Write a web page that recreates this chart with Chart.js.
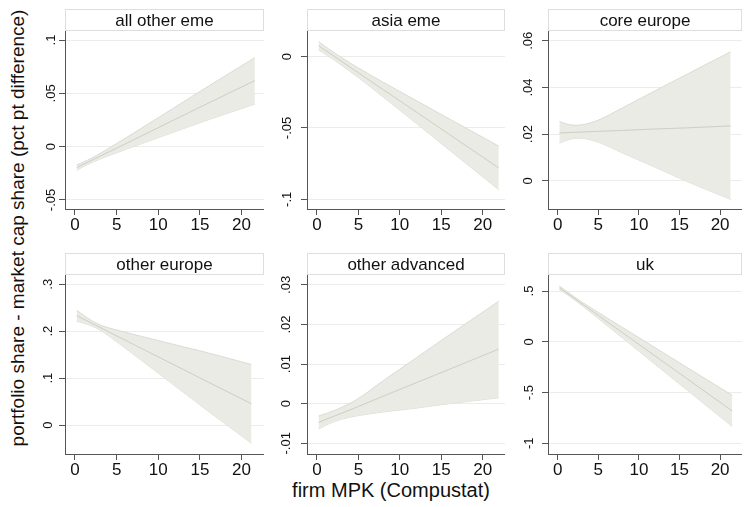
<!DOCTYPE html>
<html>
<head>
<meta charset="utf-8">
<script src="https://cdn.jsdelivr.net/npm/chart.js@4/dist/chart.umd.min.js"></script>
<style>
  body { margin: 0; background: #fff; }
  #wrap { position: relative; width: 744px; height: 507px; overflow: hidden; font-family: 'Liberation Sans', Arial, sans-serif; color: #111; }
  #wrap canvas { position: absolute; }
  #ytitle { position: absolute; left: -232px; top: 216px; width: 500px; line-height: 24px; text-align: center; font-size: 19px; transform: rotate(-90deg); white-space: nowrap; }
  #xtitle { position: absolute; left: 241px; top: 478px; width: 300px; line-height: 24px; text-align: center; font-size: 20px; white-space: nowrap; }
</style>
</head>
<body>
<div id="wrap">
  <div id="ytitle">portfolio share - market cap share (pct pt difference)</div>
  <div id="xtitle">firm MPK (Compustat)</div>
</div>
<script>
// values (linear fit + 95% band per region)
const xTicks = [0, 5, 10, 15, 20];
const panelTitles = ['all other eme', 'asia eme', 'core europe', 'other europe', 'other advanced', 'uk'];

const allOtherEmeX   = [0.2, 1.5, 3, 5, 8, 12, 16, 21.6];
const allOtherEmeFit = [-0.0197, -0.0148, -0.0090, -0.0014, 0.0101, 0.0255, 0.0408, 0.0620];
const allOtherEmeLo  = [-0.0222, -0.0169, -0.0116, -0.0057, 0.0028, 0.0140, 0.0251, 0.0400];
const allOtherEmeHi  = [-0.0172, -0.0127, -0.0064, 0.0029, 0.0174, 0.0370, 0.0566, 0.0835];
const allOtherEmeTicks = [-0.05, 0, 0.05, 0.1];

const asiaEmeX   = [0.2, 1.5, 3, 5, 8, 12, 16, 21.95];
const asiaEmeFit = [0.0076, 0.0025, -0.0034, -0.0113, -0.0231, -0.0388, -0.0546, -0.0780];
const asiaEmeLo  = [0.0047, -0.0001, -0.0061, -0.0147, -0.0283, -0.0468, -0.0655, -0.0933];
const asiaEmeHi  = [0.0105, 0.0051, -0.0007, -0.0079, -0.0179, -0.0308, -0.0437, -0.0627];
const asiaEmeTicks = [-0.1, -0.05, 0];

const coreEuropeX   = [0.2, 1.5, 3, 5, 8, 12, 16, 21.3];
const coreEuropeFit = [0.0205, 0.0207, 0.0209, 0.0212, 0.0216, 0.0222, 0.0227, 0.0235];
const coreEuropeLo  = [0.0161, 0.0178, 0.0182, 0.0165, 0.0119, 0.0058, -0.0004, -0.0080];
const coreEuropeHi  = [0.0254, 0.0240, 0.0240, 0.0260, 0.0313, 0.0386, 0.0458, 0.0553];
const coreEuropeTicks = [0, 0.02, 0.04, 0.06];

const otherEuropeX   = [0.2, 1.5, 3, 5, 8, 12, 16, 21.2];
const otherEuropeFit = [0.2330, 0.2214, 0.2080, 0.1901, 0.1632, 0.1274, 0.0916, 0.0451];
const otherEuropeLo  = [0.2213, 0.2146, 0.2025, 0.1776, 0.1375, 0.0836, 0.0295, -0.0390];
const otherEuropeHi  = [0.2447, 0.2282, 0.2135, 0.2026, 0.1889, 0.1712, 0.1537, 0.1290];
const otherEuropeTicks = [0, 0.1, 0.2, 0.3];

const otherAdvancedX   = [0.2, 1.5, 3, 5, 8, 12, 16, 21.95];
const otherAdvancedFit = [-0.0047, -0.0036, -0.0024, -0.0007, 0.0019, 0.0053, 0.0087, 0.0138];
const otherAdvancedLo  = [-0.0064, -0.0050, -0.0039, -0.0030, -0.0021, -0.0011, 0.0000, 0.0015];
const otherAdvancedHi  = [-0.0031, -0.0022, -0.0009, 0.0013, 0.0058, 0.0116, 0.0174, 0.0259];
const otherAdvancedTicks = [-0.01, 0, 0.01, 0.02, 0.03];

const ukX   = [0.2, 1.5, 3, 5, 8, 12, 16, 21.5];
const ukFit = [0.533, 0.459, 0.373, 0.259, 0.088, -0.140, -0.368, -0.681];
const ukLo  = [0.516, 0.445, 0.355, 0.229, 0.036, -0.222, -0.480, -0.835];
const ukHi  = [0.550, 0.473, 0.391, 0.289, 0.140, -0.058, -0.256, -0.527];
const ukTicks = [-1, -0.5, 0, 0.5];

const series = [
  [allOtherEmeX, allOtherEmeFit, allOtherEmeLo, allOtherEmeHi, allOtherEmeTicks],
  [asiaEmeX, asiaEmeFit, asiaEmeLo, asiaEmeHi, asiaEmeTicks],
  [coreEuropeX, coreEuropeFit, coreEuropeLo, coreEuropeHi, coreEuropeTicks],
  [otherEuropeX, otherEuropeFit, otherEuropeLo, otherEuropeHi, otherEuropeTicks],
  [otherAdvancedX, otherAdvancedFit, otherAdvancedLo, otherAdvancedHi, otherAdvancedTicks],
  [ukX, ukFit, ukLo, ukHi, ukTicks],
];

// plot boxes in page pixels: left, right, top, bottom; y range; label gap
const layout = [
  { l: 65,  r: 264, t: 31,  b: 209, yMin: -0.0585, yMax: 0.1085, gap: 14 },
  { l: 307, r: 505, t: 31,  b: 209, yMin: -0.1068, yMax: 0.018,  gap: 20 },
  { l: 548, r: 742, t: 31,  b: 209, yMin: -0.0121, yMax: 0.0642, gap: 20 },
  { l: 65,  r: 264, t: 275, b: 454, yMin: -0.0618, yMax: 0.3198, gap: 17 },
  { l: 307, r: 505, t: 275, b: 454, yMin: -0.0127, yMax: 0.0325, gap: 21 },
  { l: 548, r: 742, t: 275, b: 454, yMin: -1.105,  yMax: 0.6576, gap: 19 },
];
const xMin = -1.2, xMax = 22.7;
const STRIP = 22, YW = 40, XH = 34, TICK = 6;
const FONT = "'Liberation Sans', Arial, sans-serif";

Chart.defaults.font.family = FONT;
Chart.defaults.color = '#111';

const stripPlugin = {
  id: 'strip',
  beforeDraw(chart, args, opts) {
    const { ctx, chartArea: a } = chart;
    ctx.save();
    ctx.fillStyle = '#fff';
    ctx.fillRect(a.left, a.top - STRIP, a.right - a.left, STRIP);
    ctx.strokeStyle = '#dedede';
    ctx.lineWidth = 1;
    ctx.strokeRect(a.left + 0.5, a.top - STRIP + 0.5, a.right - a.left - 1, STRIP - 1);
    ctx.fillStyle = '#111';
    ctx.font = '17px ' + FONT;
    ctx.textAlign = 'center';
    ctx.textBaseline = 'middle';
    ctx.fillText(opts.text, (a.left + a.right) / 2, a.top - STRIP / 2 + 1);
    ctx.restore();
  }
};

function stataLabel(v) {
  if (v === 0) return '0';
  return String(+v.toFixed(4)).replace(/^(-?)0\./, '$1.');
}

const measure = document.createElement('canvas').getContext('2d');
measure.font = '13px ' + FONT;

const wrap = document.getElementById('wrap');
series.forEach(([xs, fit, lo, hi, yTicks], i) => {
  const p = layout[i];
  const canvas = document.createElement('canvas');
  const w = p.r - p.l + YW, h = STRIP + (p.b - p.t) + XH;
  canvas.width = w; canvas.height = h;
  canvas.style.left = (p.l - YW) + 'px';
  canvas.style.top = (p.t - STRIP) + 'px';
  wrap.appendChild(canvas);

  const widest = Math.max(...yTicks.map(v => measure.measureText(stataLabel(v)).width));
  const pts = arr => xs.map((x, k) => ({ x: x, y: arr[k] }));

  new Chart(canvas, {
    type: 'line',
    data: {
      datasets: [
        { data: pts(lo), order: 2, borderColor: '#dadcd3', borderWidth: 1, pointRadius: 0, fill: false, tension: 0.35 },
        { data: pts(hi), order: 1, borderColor: '#dadcd3', borderWidth: 1, pointRadius: 0, fill: '-1', backgroundColor: '#e9ebe4', tension: 0.35 },
        { data: pts(fit), order: 0, borderColor: '#cdd0c5', borderWidth: 1, pointRadius: 0, fill: false },
      ]
    },
    options: {
      responsive: false,
      animation: false,
      devicePixelRatio: 1,
      layout: { padding: { top: STRIP, left: 0, right: 0, bottom: 0 } },
      plugins: { legend: { display: false }, tooltip: { enabled: false }, strip: { text: panelTitles[i] } },
      scales: {
        x: {
          type: 'linear', min: xMin, max: xMax,
          afterBuildTicks: s => { s.ticks = xTicks.map(v => ({ value: v })); },
          afterFit: s => { s.height = XH; },
          grid: { drawOnChartArea: false, tickColor: '#555', tickLength: TICK },
          border: { color: '#555', width: 1 },
          ticks: { font: { size: 17 }, color: '#111', padding: 0, maxRotation: 0 }
        },
        y: {
          min: p.yMin, max: p.yMax,
          afterBuildTicks: s => { s.ticks = yTicks.map(v => ({ value: v })); },
          afterFit: s => { s.width = YW; },
          grid: { color: '#ececec', tickColor: '#555', tickLength: TICK },
          border: { color: '#555', width: 1 },
          ticks: {
            font: { size: 13 }, color: '#111', minRotation: 90, maxRotation: 90,
            crossAlign: 'center', padding: p.gap - TICK - widest / 2,
            callback: v => stataLabel(v)
          }
        }
      }
    },
    plugins: [stripPlugin]
  });
});
</script>
</body>
</html>
